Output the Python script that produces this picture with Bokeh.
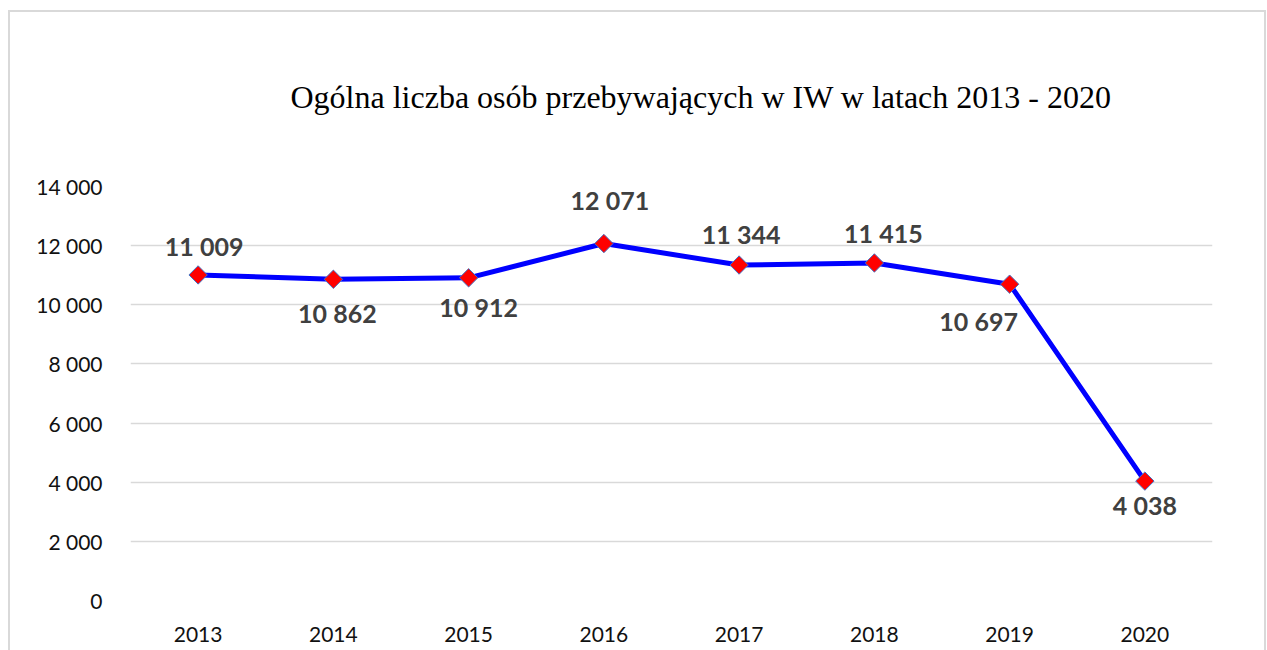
from bokeh.plotting import figure
from bokeh.models import ColumnDataSource, FactorRange, Range1d, FixedTicker
from bokeh.core.properties import value
from bokeh.embed import file_html
from bokeh.resources import INLINE

# ---- data ----
years = ["2013", "2014", "2015", "2016", "2017", "2018", "2019", "2020"]
counts = [11009, 10862, 10912, 12071, 11344, 11415, 10697, 4038]
y_ticks = [0, 2000, 4000, 6000, 8000, 10000, 12000, 14000]
title_text = "Ogólna liczba osób przebywających w IW w latach 2013 - 2020"

# label placement (style): pixel offsets of each data label from its point
label_dx = [6, 4, 10, 6, 2, 9, -31, 0]
label_dy = [-29, 34, 29, -44, -31, -30, 37, 24]

def fmt(v):
    return f"{v:,}".replace(",", " ")

src = ColumnDataSource(dict(
    x=years, y=counts,
    lbl=[fmt(v) for v in counts],
    dx=label_dx, dy=label_dy,
))

g = "linear-gradient(#d9d9d9,#d9d9d9)"
p = figure(
    x_range=FactorRange(*years, range_padding=0),
    y_range=Range1d(0, 14000),
    width=1267, height=650,
    output_backend="svg", toolbar_location=None,
    min_border_left=130, min_border_right=55,
    min_border_top=186, min_border_bottom=50,
    background_fill_color="white", border_fill_color=None,
    title=title_text,
)
p.styles = {
    "background-color": "white",
    "background-image": f"{g}, {g}, {g}",
    "background-size": "2px 660px, 1258px 2px, 2px 660px",
    "background-position": "8px 10px, 8px 10px, 1264px 10px",
    "background-repeat": "no-repeat",
}
p.outline_line_color = None

p.title.text_font = "Liberation Serif"
p.title.text_font_size = "32px"
p.title.text_font_style = "normal"
p.title.text_color = "#000000"
p.title.align = "left"
p.title.offset = 160
p.title.standoff = 144

# axes
for ax in (p.xaxis, p.yaxis):
    ax.axis_line_color = None
    ax.major_tick_line_color = None
    ax.minor_tick_line_color = None
    ax.major_label_text_font = "Lato"
    ax.major_label_text_font_size = "21px"
    ax.major_label_text_color = "#111111"
p.yaxis.ticker = FixedTicker(ticks=y_ticks)
p.yaxis.major_label_overrides = {t: fmt(t) for t in y_ticks}
p.yaxis.major_label_standoff = 22
p.xaxis.major_label_standoff = 20

p.xgrid.grid_line_color = None
p.ygrid.grid_line_color = "#d9d9d9"
p.ygrid.grid_line_width = 1.5

# line and markers
p.line("x", "y", source=src, line_color="#0000FF", line_width=5)
p.scatter("x", "y", source=src, marker="square", angle=0.785398, size=13,
          fill_color="#FF0000", line_color="#4472C4", line_width=1)

# data labels
p.text("x", "y", text="lbl", source=src, x_offset="dx", y_offset="dy",
       text_align="center", text_baseline="middle",
       text_font=value("Lato"), text_font_style="bold",
       text_font_size="25px", text_color="#404040")

open("out.html", "w").write(file_html(p, INLINE))
